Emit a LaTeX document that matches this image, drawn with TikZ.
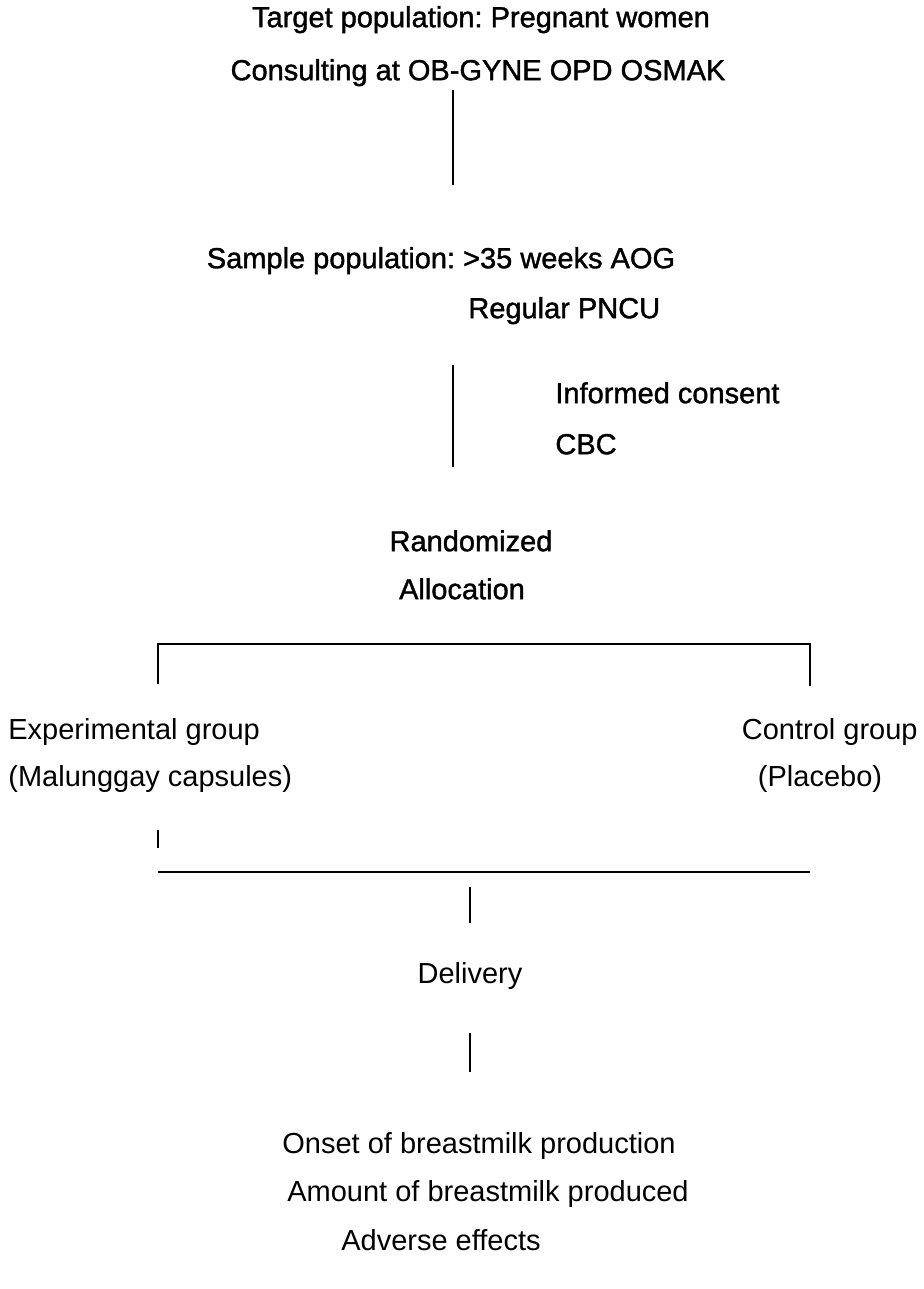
\documentclass[tikz,border=0pt]{standalone}
\usepackage{fontspec}
\setmainfont{Liberation Sans}
\newfontfamily\heavyfont[FakeBold=1.3]{Liberation Sans}
\frenchspacing
\begin{document}
\begin{tikzpicture}[x=0.5pt,y=-0.5pt,
        txt/.style={inner sep=0pt, text height=0.72em, text depth=0.2em, font=\fontsize{14.5}{17}\selectfont},
        hvy/.style={txt, font=\fontsize{14.5}{17}\heavyfont},
        ln/.style={line width=0.9pt}]

        \useasboundingbox (0,0) rectangle (924,1289);

        % texts
        \node[hvy] (tgt1) at (481,22) {Target population: Pregnant women};
        \node[hvy] (tgt2) at (478,75) {Consulting at OB-GYNE OPD OSMAK};
        \node[hvy] (smp1) at (441,263) {Sample population: >35 weeks AOG};
        \node[hvy, anchor=west] (smp2) at (468,313) {Regular PNCU};
        \node[hvy, anchor=west] (cons) at (555,398) {Informed consent};
        \node[hvy, anchor=west] (cbc) at (555,449) {CBC};
        \node[hvy] (rand) at (471,546) {Randomized};
        \node[hvy] (alloc) at (462,594) {Allocation};
        \node[txt, anchor=west] (exp1) at (8,734) {Experimental group};
        \node[txt, anchor=west] (exp2) at (8,781) {(Malunggay capsules)};
        \node[txt, anchor=east] (ctl1) at (918,734) {Control group};
        \node[txt] (ctl2) at (820,781) {(Placebo)};
        \node[txt] (deliv) at (470,978) {Delivery};
        \node[txt] (out1) at (479,1148) {Onset of breastmilk production};
        \node[txt] (out2) at (488,1196) {Amount of breastmilk produced};
        \node[txt] (out3) at (441,1245) {Adverse effects};

        % connectors
        \coordinate (c1a) at (453,90);   \coordinate (c1b) at (453,185);
        \coordinate (c2a) at (453,365);  \coordinate (c2b) at (453,467);
        \coordinate (brl) at (158,684);  \coordinate (brtl) at (158,644);
        \coordinate (brtr) at (810,644); \coordinate (brr) at (810,686);
        \coordinate (tka) at (158,830);  \coordinate (tkb) at (158,848);
        \coordinate (hl) at (158,872);   \coordinate (hr) at (810,872);
        \coordinate (c3a) at (470,887);  \coordinate (c3b) at (470,923);
        \coordinate (c4a) at (470,1033); \coordinate (c4b) at (470,1072);

        \draw[ln] (c1a) -- (c1b);
        \draw[ln] (c2a) -- (c2b);
        \draw[ln] (brl) -- (brtl) -- (brtr) -- (brr);
        \draw[ln] (tka) -- (tkb);
        \draw[ln] (hl) -- (hr);
        \draw[ln] (c3a) -- (c3b);
        \draw[ln] (c4a) -- (c4b);
    \end{tikzpicture}
\end{document}
